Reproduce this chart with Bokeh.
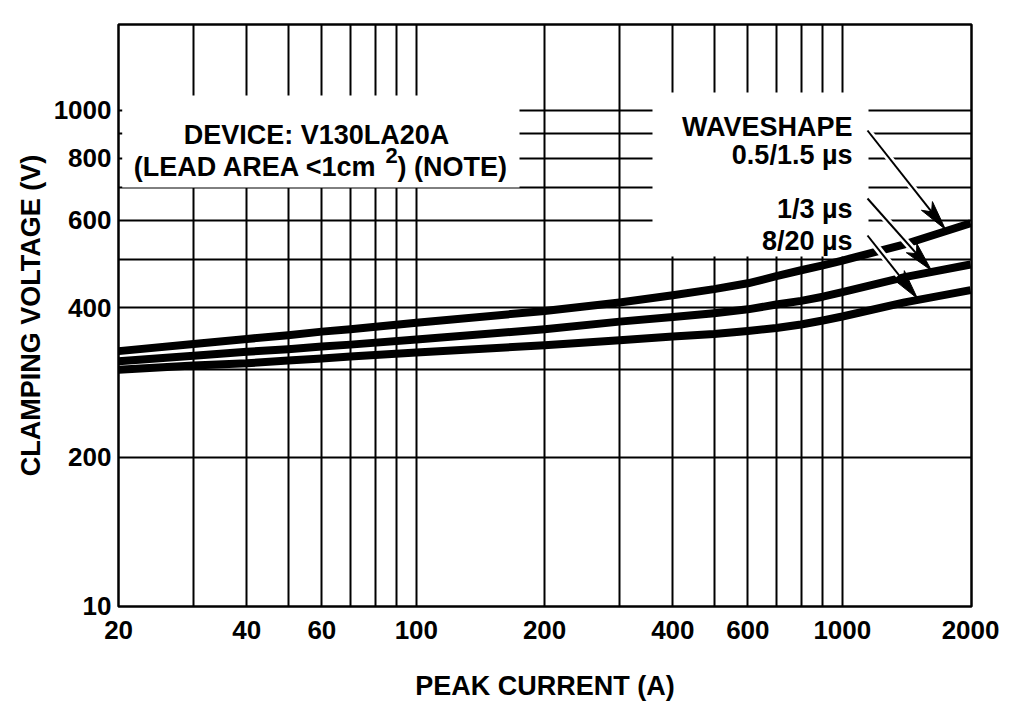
import math
from bokeh.plotting import figure
from bokeh.models import Range1d, FixedTicker, Label
from bokeh.embed import file_html
from bokeh.resources import INLINE

# ---------------- data ----------------
current = [20, 30, 40, 50, 60, 70, 100, 200, 300, 400, 500, 600, 700, 800, 900, 1000, 1400, 2000]
v_05_15us = [327, 338, 346, 352, 358, 362, 373, 394, 410, 424, 436, 448, 463, 476, 487, 498, 537, 592]
v_1_3us = [312, 320, 326, 330, 334, 337, 345, 362, 375, 383, 390, 397, 406, 413, 421, 430, 461, 489]
v_8_20us = [300, 306, 309, 313, 316, 319, 325, 336, 344, 350, 354, 359, 364, 370, 377, 384, 410, 434]

x_tick_values = [20, 40, 60, 100, 200, 400, 600, 1000, 2000]
x_tick_labels = ["20", "40", "60", "100", "200", "400", "600", "1000", "2000"]
y_tick_values = [100, 200, 400, 600, 800, 1000]
y_tick_labels = ["10", "200", "400", "600", "800", "1000"]
x_grid_values = [30, 40, 50, 60, 70, 80, 90, 100, 200, 300, 400, 500, 600, 700, 800, 900, 1000]
y_grid_values = [200, 300, 400, 500, 600, 700, 800, 900, 1000]

# ---------------- layout ----------------
FONT = "Liberation Sans"
W, H = 1004, 706
MB_L, MB_R, MB_T, MB_B = 118, 33, 24, 100
X0, X1 = 19.99, 2010
Y0, Y1 = 99.9, 1490
OFF = 0  # page offset of the figure

FL = OFF + MB_L
FR = OFF + W - MB_R
FT = OFF + MB_T
FB = OFF + H - MB_B
KX = (FR - FL) / math.log10(X1 / X0)
KY = (FB - FT) / math.log10(Y1 / Y0)


def px2x(px):
    return X0 * 10 ** ((px - FL) / KX)


def py2y(py):
    return Y0 * 10 ** ((FB - py) / KY)


p = figure(width=W, height=H, title=None,
           x_axis_type="log", y_axis_type="log",
           x_range=Range1d(X0, X1), y_range=Range1d(Y0, Y1),
           output_backend="svg", toolbar_location=None,
           min_border_left=MB_L, min_border_right=MB_R,
           min_border_top=MB_T, min_border_bottom=MB_B)

p.background_fill_color = "white"
p.border_fill_color = "white"
p.outline_line_color = "black"
p.outline_line_width = 2.5

# axes
p.xaxis.ticker = FixedTicker(ticks=x_tick_values)
p.xaxis.major_label_overrides = dict(zip(x_tick_values, x_tick_labels))
p.yaxis.ticker = FixedTicker(ticks=y_tick_values)
p.yaxis.major_label_overrides = dict(zip(y_tick_values, y_tick_labels))
for ax in (p.xaxis, p.yaxis):
    ax.axis_line_color = None
    ax.major_tick_line_color = None
    ax.minor_tick_line_color = None
    ax.major_tick_out = 0
    ax.major_tick_in = 0
    ax.minor_tick_out = 0
    ax.minor_tick_in = 0
    ax.major_label_text_font = FONT
    ax.major_label_text_font_size = "26px"
    ax.major_label_text_font_style = "bold"
    ax.major_label_text_color = "black"
    ax.axis_label_text_font = FONT
    ax.axis_label_text_font_size = "27px"
    ax.axis_label_text_font_style = "bold"
    ax.axis_label_text_color = "black"

p.xaxis.axis_label = "PEAK CURRENT (A)"
p.yaxis.axis_label = "CLAMPING VOLTAGE (V)"
p.xaxis.major_label_standoff = 14
p.xaxis.axis_label_standoff = 29
p.yaxis.major_label_standoff = 7
p.yaxis.axis_label_standoff = 5

# grid
p.xgrid.ticker = FixedTicker(ticks=x_grid_values)
p.ygrid.ticker = FixedTicker(ticks=y_grid_values)
for g in (p.xgrid, p.ygrid):
    g.grid_line_color = "black"
    g.grid_line_width = 2
    g.grid_line_alpha = 1

# white boxes behind the annotation texts
p.quad(left=[px2x(121.7), px2x(652)], right=[px2x(519), px2x(868)],
       top=[py2y(95), py2y(92)], bottom=[py2y(187), py2y(256)],
       fill_color="white", line_color=None)

# curves
for vals in (v_05_15us, v_1_3us, v_8_20us):
    p.line(current, vals, line_width=8, line_color="black",
           line_join="round", line_cap="butt")

# arrows (start / tip in page pixels)
arrows = [((867, 130), (945, 229)),
          ((867, 198), (931, 270)),
          ((867, 235), (917, 298))]
HL, HW = 30, 14
halo_x0, halo_y0, halo_x1, halo_y1 = [], [], [], []
sh_x0, sh_y0, sh_x1, sh_y1 = [], [], [], []
head_xs, head_ys = [], []
for (sx, sy), (tx, ty) in arrows:
    dx, dy = tx - sx, ty - sy
    d = math.hypot(dx, dy)
    ux, uy = dx / d, dy / d
    bx, by = tx - HL * ux, ty - HL * uy
    nx, ny = -uy, ux
    halo_x0.append(px2x(sx)); halo_y0.append(py2y(sy))
    halo_x1.append(px2x(bx)); halo_y1.append(py2y(by))
    mx, my = tx - 0.5 * HL * ux, ty - 0.5 * HL * uy
    sh_x0.append(px2x(sx)); sh_y0.append(py2y(sy))
    sh_x1.append(px2x(mx)); sh_y1.append(py2y(my))
    pts = [(tx, ty), (bx + HW / 2 * nx, by + HW / 2 * ny),
           (bx + 0.25 * HL * ux, by + 0.25 * HL * uy),
           (bx - HW / 2 * nx, by - HW / 2 * ny)]
    head_xs.append([px2x(a) for a, b in pts])
    head_ys.append([py2y(b) for a, b in pts])

p.segment(halo_x0, halo_y0, halo_x1, halo_y1, line_color="white",
          line_width=7, line_cap="butt")
p.segment(sh_x0, sh_y0, sh_x1, sh_y1, line_color="black",
          line_width=2, line_cap="butt")
p.patches(head_xs, head_ys, fill_color="black", line_color="black",
          line_width=1)


def add_text(px, py, text, align, size="27px"):
    p.add_layout(Label(x=px2x(px), y=py2y(py), text=text,
                       text_align=align, text_baseline="alphabetic",
                       text_font=FONT, text_font_size=size,
                       text_font_style="bold", text_color="black"))


add_text(316, 134, "DEVICE: V130LA20A", "center")
add_text(377, 166, "(LEAD AREA <1cm", "right")
add_text(385, 155, "2", "left", size="22px")
add_text(397, 166, ") (NOTE)", "left")

add_text(852, 126, "WAVESHAPE", "right")
add_text(852, 154, "0.5/1.5 µs", "right")
add_text(852, 208, "1/3 µs", "right")
add_text(852, 240, "8/20 µs", "right")

open("out.html", "w").write(file_html(p, INLINE))
